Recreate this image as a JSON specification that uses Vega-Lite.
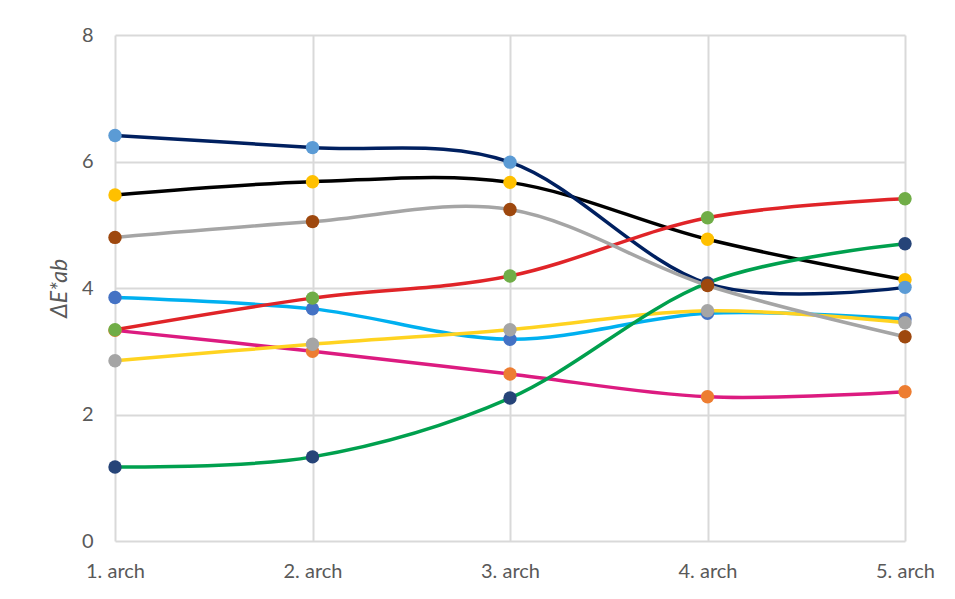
{
  "$schema": "https://vega.github.io/schema/vega-lite/v6.json",
  "width": 790,
  "height": 506,
  "autosize": {"type": "none"},
  "padding": {"left": 115, "top": 35, "right": 50, "bottom": 58},
  "background": "white",
  "config": {
    "view": {"stroke": null},
    "font": "Lato",
    "axis": {
      "labelFont": "Lato",
      "titleFont": "Lato",
      "labelColor": "#595959",
      "titleColor": "#595959",
      "labelFontSize": 20,
      "gridColor": "#D9D9D9",
      "gridWidth": 2,
      "domain": false,
      "ticks": false
    }
  },
  "data": {
    "values": [
      {"arch": "1. arch", "s": "S1", "v": 3.85},
      {"arch": "2. arch", "s": "S1", "v": 3.67},
      {"arch": "3. arch", "s": "S1", "v": 3.19},
      {"arch": "4. arch", "s": "S1", "v": 3.60},
      {"arch": "5. arch", "s": "S1", "v": 3.51},
      {"arch": "1. arch", "s": "S2", "v": 3.33},
      {"arch": "2. arch", "s": "S2", "v": 3.00},
      {"arch": "3. arch", "s": "S2", "v": 2.64},
      {"arch": "4. arch", "s": "S2", "v": 2.28},
      {"arch": "5. arch", "s": "S2", "v": 2.36},
      {"arch": "1. arch", "s": "S3", "v": 2.85},
      {"arch": "2. arch", "s": "S3", "v": 3.11},
      {"arch": "3. arch", "s": "S3", "v": 3.34},
      {"arch": "4. arch", "s": "S3", "v": 3.64},
      {"arch": "5. arch", "s": "S3", "v": 3.45},
      {"arch": "1. arch", "s": "S4", "v": 5.47},
      {"arch": "2. arch", "s": "S4", "v": 5.68},
      {"arch": "3. arch", "s": "S4", "v": 5.67},
      {"arch": "4. arch", "s": "S4", "v": 4.77},
      {"arch": "5. arch", "s": "S4", "v": 4.13},
      {"arch": "1. arch", "s": "S5", "v": 6.41},
      {"arch": "2. arch", "s": "S5", "v": 6.22},
      {"arch": "3. arch", "s": "S5", "v": 5.99},
      {"arch": "4. arch", "s": "S5", "v": 4.07},
      {"arch": "5. arch", "s": "S5", "v": 4.01},
      {"arch": "1. arch", "s": "S6", "v": 3.34},
      {"arch": "2. arch", "s": "S6", "v": 3.84},
      {"arch": "3. arch", "s": "S6", "v": 4.19},
      {"arch": "4. arch", "s": "S6", "v": 5.11},
      {"arch": "5. arch", "s": "S6", "v": 5.41},
      {"arch": "1. arch", "s": "S7", "v": 1.17},
      {"arch": "2. arch", "s": "S7", "v": 1.33},
      {"arch": "3. arch", "s": "S7", "v": 2.26},
      {"arch": "4. arch", "s": "S7", "v": 4.08},
      {"arch": "5. arch", "s": "S7", "v": 4.70},
      {"arch": "1. arch", "s": "S8", "v": 4.80},
      {"arch": "2. arch", "s": "S8", "v": 5.05},
      {"arch": "3. arch", "s": "S8", "v": 5.24},
      {"arch": "4. arch", "s": "S8", "v": 4.04},
      {"arch": "5. arch", "s": "S8", "v": 3.23}
    ]
  },
  "encoding": {
    "x": {
      "field": "arch",
      "type": "ordinal",
      "scale": {"type": "point", "padding": 0},
      "axis": {"title": null, "labelAngle": 0, "labelPadding": 20, "grid": true}
    },
    "y": {
      "field": "v",
      "type": "quantitative",
      "scale": {"domain": [0, 8], "nice": false},
      "axis": {
        "values": [0, 2, 4, 6, 8],
        "labelPadding": 22,
        "title": "ΔE*ab",
        "titleFontSize": 23,
        "titleFontStyle": "italic",
        "titleFontWeight": "normal",
        "titlePadding": 10
      }
    }
  },
  "layer": [
    {
      "mark": {"type": "line", "interpolate": "cardinal", "strokeWidth": 3.5},
      "encoding": {
        "color": {
          "field": "s",
          "type": "nominal",
          "legend": null,
          "scale": {
            "domain": ["S1", "S2", "S3", "S4", "S5", "S6", "S7", "S8"],
            "range": ["#00B0F0", "#DC1B80", "#FFD320", "#000000", "#002060", "#E02428", "#00A04E", "#A5A5A5"]
          }
        }
      }
    },
    {
      "mark": {"type": "point", "filled": true, "opacity": 1, "size": 180, "strokeWidth": 0},
      "encoding": {
        "fill": {
          "field": "s",
          "type": "nominal",
          "legend": null,
          "scale": {
            "domain": ["S1", "S2", "S3", "S4", "S5", "S6", "S7", "S8"],
            "range": ["#4472C4", "#ED7D31", "#A5A5A5", "#FFC000", "#5B9BD5", "#70AD47", "#264478", "#9E480E"]
          }
        }
      }
    }
  ]
}
